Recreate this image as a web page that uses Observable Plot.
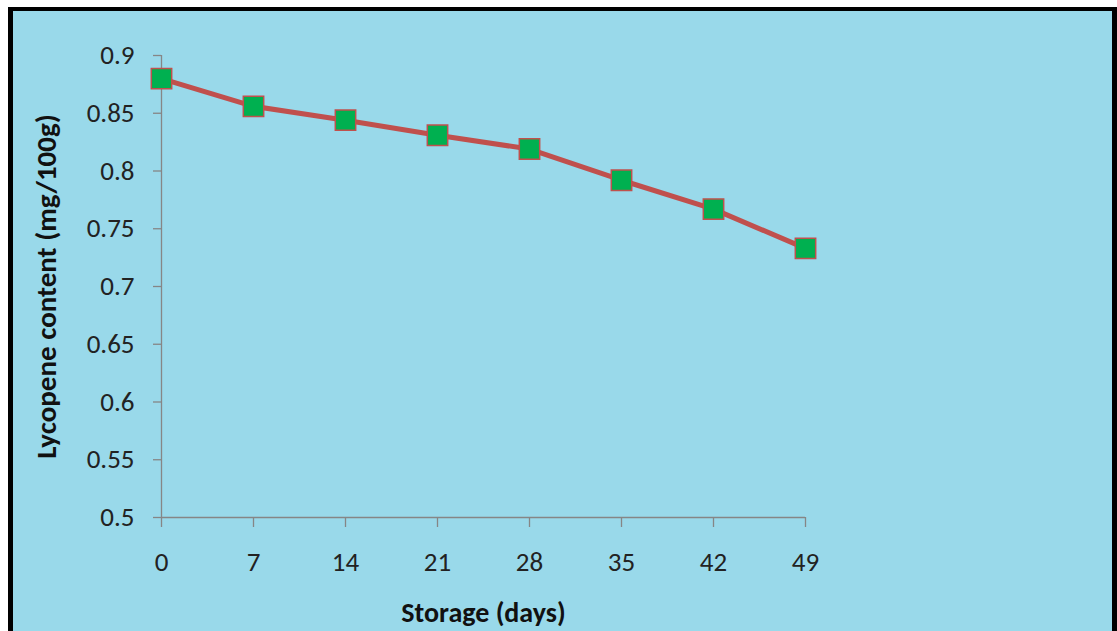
<!DOCTYPE html>
<html>
<head>
<meta charset="utf-8">
<script src="https://cdn.jsdelivr.net/npm/d3@7"></script>
<script src="https://cdn.jsdelivr.net/npm/@observablehq/plot@0.6"></script>
<style>
  html, body { margin: 0; padding: 0; background: #ffffff; }
  #frame {
    position: absolute; left: 8px; top: 7px; width: 1099px; height: 622px;
    background: #99d9ea;
    border-left: 5px solid #000; border-top: 4px solid #000; border-right: 5px solid #000;
    border-bottom: 2px solid #5b9fae;
  }
  #chart { position: absolute; left: 0; top: 0; }
  #chart svg { background: transparent; }
</style>
</head>
<body>
<div id="frame"></div>
<div id="chart"></div>
<script>
const days = [0, 7, 14, 21, 28, 35, 42, 49];
const lycopene = [0.880, 0.856, 0.844, 0.831, 0.819, 0.792, 0.767, 0.733];
const xTicks = [0, 7, 14, 21, 28, 35, 42, 49];
const yTicks = [0.5, 0.55, 0.6, 0.65, 0.7, 0.75, 0.8, 0.85, 0.9];
const yTickLabels = ["0.5", "0.55", "0.6", "0.65", "0.7", "0.75", "0.8", "0.85", "0.9"];
const xTitle = "Storage (days)";
const yTitle = "Lycopene content (mg/100g)";

const data = days.map((d, i) => ({day: d, value: lycopene[i]}));
const axisColor = "#868686";
const font = "Carlito, 'Open Sans', 'Liberation Sans', sans-serif";

const plot = Plot.plot({
  width: 1117,
  height: 631,
  marginLeft: 161,
  marginRight: 312,
  marginTop: 55,
  marginBottom: 114,
  style: {background: "transparent", fontFamily: font},
  x: {domain: [0, 49]},
  y: {domain: [0.5, 0.9]},
  marks: [
    Plot.ruleX([0], {stroke: axisColor, strokeWidth: 1.3}),
    Plot.ruleY([0.5], {stroke: axisColor, strokeWidth: 1.3}),
    Plot.axisY({
      ticks: yTicks,
      tickFormat: (d) => yTickLabels[yTicks.indexOf(d)],
      tickSize: 8, tickPadding: 19, stroke: axisColor, strokeWidth: 1.3,
      fontSize: 27, fill: "#222", label: null
    }),
    Plot.axisX({
      ticks: xTicks,
      tickFormat: d => String(d),
      tickSize: 10, tickPadding: 24, stroke: axisColor, strokeWidth: 1.3,
      fontSize: 27, fill: "#222", label: null
    }),
    Plot.line(data, {x: "day", y: "value", stroke: "#c0504d", strokeWidth: 5}),
    Plot.dot(data, {x: "day", y: "value", symbol: "square", r: 11.5, fill: "#00b050", stroke: "#c0504d", strokeWidth: 1.5}),
    Plot.text([xTitle], {frameAnchor: "bottom", dy: 104, text: d => d, fontSize: 28, fontWeight: "bold", fill: "#111"}),
    Plot.text([yTitle], {frameAnchor: "left", dx: -115, rotate: -90, textAnchor: "middle", text: d => d, fontSize: 29, fontWeight: "bold", fill: "#111"})
  ]
});
document.getElementById("chart").appendChild(plot);
</script>
</body>
</html>
